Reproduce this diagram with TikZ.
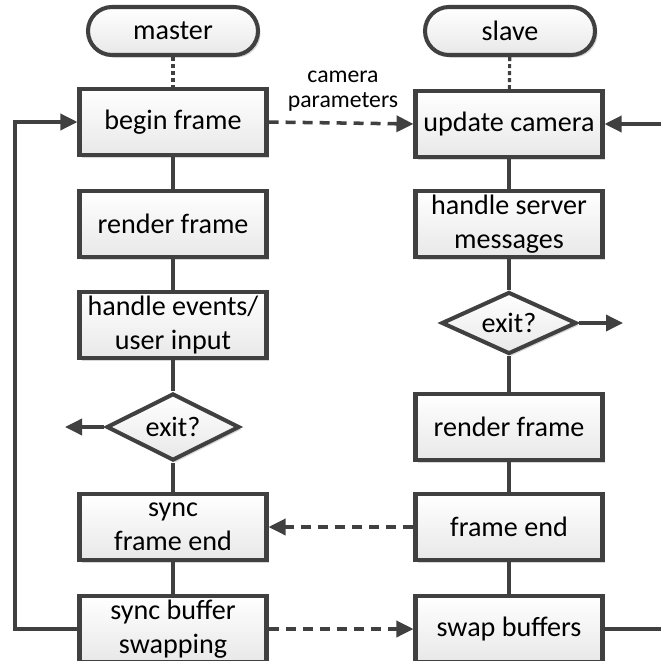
\documentclass[tikz,border=0pt]{standalone}
\usepackage{fontspec}
\setmainfont{Carlito}
\usetikzlibrary{arrows.meta,shapes.geometric,shadows}
\definecolor{linegray}{HTML}{404040}
\def\stepnode{\node[stepbox]}

\begin{document}
\begin{tikzpicture}[
  font=\fontsize{16}{19.5}\selectfont,
  stepbox/.style={rectangle,draw=linegray,line width=2.3pt,top color=white,bottom color=black!9,
    minimum width=3.74cm,minimum height=1.32cm,align=center,inner sep=1pt,
    drop shadow={shadow xshift=0.05cm,shadow yshift=-0.05cm,fill=black!35,opacity=0.45}},
  termbox/.style={stepbox,rounded corners=0.48cm,minimum width=3.4cm,minimum height=0.96cm},
  decide/.style={stepbox,diamond,aspect=2,inner sep=0pt,minimum width=2.66cm,minimum height=1.34cm},
  flow/.style={draw=linegray,line width=2pt},
  tip/.style={-{Triangle[length=0.34cm,width=0.32cm]}},
  msg/.style={flow,tip,dash pattern=on 0.2cm off 0.14cm},
  link/.style={flow,line width=1.8pt,dash pattern=on 0.08cm off 0.06cm}
]
\useasboundingbox (0,0) rectangle (13.22,-13.22);
% master side
\node[termbox] (mstart) at (3.46,-0.62) {master};
\stepnode (mbegin) at (3.46,-2.44) {begin frame};
\stepnode (mrender) at (3.46,-4.48) {render frame};
\stepnode (mevents) at (3.46,-6.5) {handle events/\\user input};
\node[decide] (mexit) at (3.46,-8.54) {exit?};
\stepnode (msync) at (3.46,-10.54) {sync\\frame end};
\stepnode (mswap) at (3.46,-12.58) {sync buffer\\swapping};
% slave side
\node[termbox] (sstart) at (10.2,-0.62) {slave};
\stepnode (scam) at (10.18,-2.48) {update camera};
\stepnode (sserver) at (10.18,-4.48) {handle server\\messages};
\node[decide,minimum width=2.7cm,minimum height=1.24cm] (sexit) at (10.18,-6.46) {exit?};
\stepnode (srender) at (10.18,-8.54) {render frame};
\stepnode (send) at (10.18,-10.54) {frame end};
\stepnode (sswap) at (10.18,-12.58) {swap buffers};
\coordinate (lloop) at (0.3,-12.58);
\coordinate (rloop) at (13.6,-12.58);
\coordinate (mout) at (1.3,-8.54);
\coordinate (sout) at (12.46,-6.46);
\node[font=\fontsize{13.5}{14.5}\selectfont,align=center] (camlabel) at (6.86,-1.82) {camera\\parameters};

\draw[link] (mstart) -- (mbegin);
\draw[link] (sstart) -- (scam);
\draw[flow] (mbegin) -- (mrender);
\draw[flow] (mrender) -- (mevents);
\draw[flow] (mevents) -- (mexit);
\draw[flow] (mexit) -- (msync);
\draw[flow] (msync) -- (mswap);
\draw[flow] (scam) -- (sserver);
\draw[flow] (sserver) -- (sexit);
\draw[flow] (sexit) -- (srender);
\draw[flow] (srender) -- (send);
\draw[flow] (send) -- (sswap);
\draw[flow,tip] (mexit.west) -- (mout);
\draw[flow,tip] (sexit.east) -- (sout);
\draw[flow,tip] (mswap.west) -- (lloop) |- (mbegin.west);
\draw[flow,tip] (sswap.east) -- (rloop) |- (scam.east);
\draw[msg] (mbegin.east) -- (scam.west);
\draw[msg] (send.west) -- (msync.east);
\draw[msg] (mswap.east) -- (sswap.west);
\end{tikzpicture}
\end{document}
